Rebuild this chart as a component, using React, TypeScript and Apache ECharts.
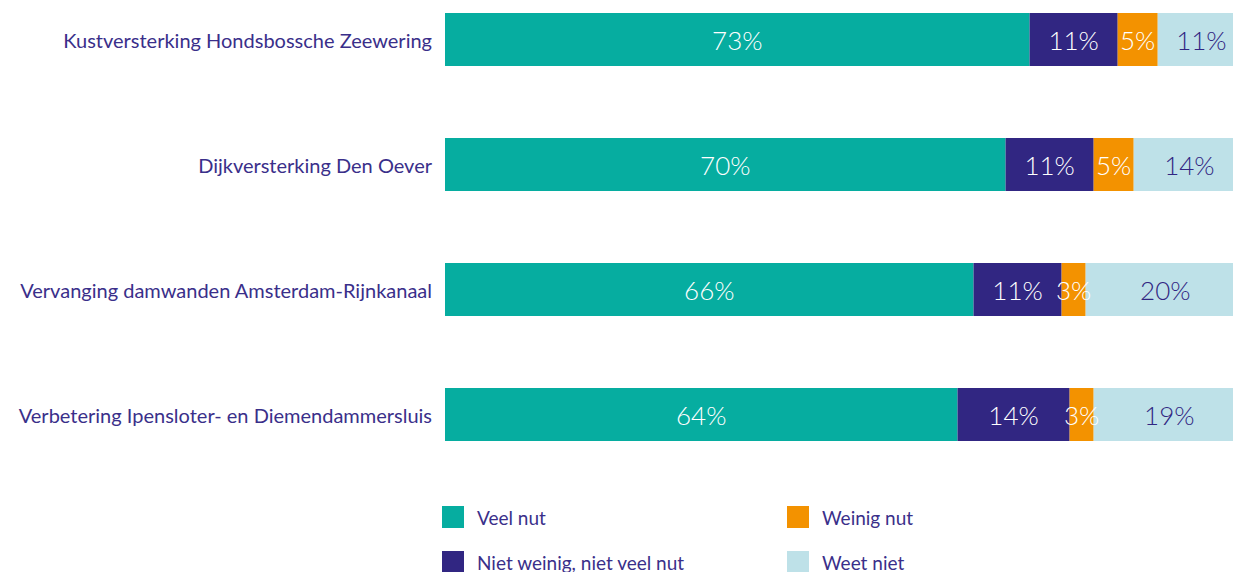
import React, { useEffect, useRef } from "react";
import * as echarts from "echarts";

const categories = [
  "Kustversterking Hondsbossche Zeewering",
  "Dijkversterking Den Oever",
  "Vervanging damwanden Amsterdam-Rijnkanaal",
  "Verbetering Ipensloter- en Diemendammersluis",
];
const seriesNames = ["Veel nut", "Niet weinig, niet veel nut", "Weinig nut", "Weet niet"];
const veelNut = [73, 70, 66, 64];
const nietWeinigNietVeel = [11, 11, 11, 14];
const weinigNut = [5, 5, 3, 3];
const weetNiet = [11, 14, 20, 19];
const colors = ["#06ADA0", "#312682", "#F39200", "#BEE1E8"];
const labelColors = ["#ffffff", "#ffffff", "#ffffff", "#312682"];
// visible part of the axis (the original picture is cropped on the right)
const axisMax = 98.4;

const FONT = "Lato";
const TEXT = "#3a2f8a";

const legendPos = [
  { left: 442, top: 506 },
  { left: 442, top: 551 },
  { left: 787, top: 506 },
  { left: 787, top: 551 },
];

export default function App() {
  const ref = useRef<HTMLDivElement>(null);
  useEffect(() => {
    if (!ref.current) return;
    const chart = echarts.init(ref.current, undefined, { renderer: "svg" });
    const values = [veelNut, nietWeinigNietVeel, weinigNut, weetNiet];
    chart.setOption({
      animation: false,
      grid: { left: 445, top: 39.5, right: 0, height: 375, containLabel: false },
      xAxis: { type: "value", min: 0, max: axisMax, show: false },
      yAxis: {
        type: "category",
        data: categories,
        inverse: true,
        boundaryGap: false,
        axisLine: { show: false },
        axisTick: { show: false },
        splitLine: { show: false },
        axisLabel: { color: TEXT, fontFamily: FONT, fontSize: 20, margin: 13 },
      },
      legend: seriesNames.map((name, i) => ({
        left: legendPos[i].left,
        top: legendPos[i].top,
        orient: "horizontal",
        itemWidth: 22,
        itemHeight: 22,
        padding: 0,
        icon: "rect",
        selectedMode: false,
        data: [name],
        textStyle: { color: TEXT, fontFamily: FONT, fontSize: 19, padding: [0, 0, 0, 8] },
      })),
      series: seriesNames.map((name, i) => ({
        name,
        type: "bar",
        stack: "total",
        barWidth: 53,
        clip: true,
        data: values[i],
        itemStyle: { color: colors[i] },
        label: {
          show: true,
          position: "inside",
          offset: i === 3 ? [6, 0] : [0, 0],
          formatter: (p: any) => `${p.value}%`,
          color: labelColors[i],
          fontFamily: FONT,
          fontWeight: 300,
          fontSize: 26,
        },
      })),
    });
    return () => chart.dispose();
  }, []);
  return (
    <div
      ref={ref}
      style={{ position: "absolute", left: 0, top: 0, width: 1233, height: 572, background: "#fff" }}
    />
  );
}
